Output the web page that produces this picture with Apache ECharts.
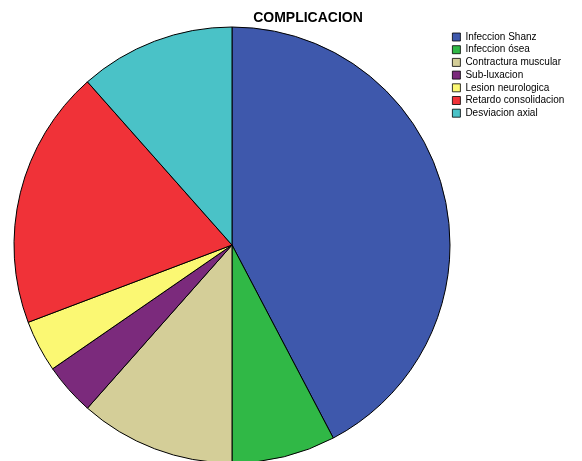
<!DOCTYPE html>
<html><head><meta charset="utf-8">
<script src="https://cdn.jsdelivr.net/npm/echarts@6/dist/echarts.min.js"></script>
<style>html,body{margin:0;padding:0;background:#fff}#c{width:582px;height:461px}</style>
</head><body><div id="c"></div>
<script>
var categories = ['Infeccion Shanz','Infeccion ósea','Contractura muscular','Sub-luxacion','Lesion neurologica','Retardo consolidacion','Desviacion axial'];
var values = [11, 2, 3, 1, 1, 5, 3];
var colors = ['#3e58ac','#30b846','#d4ce98','#7b2a7c','#fbf873','#f03238','#4ac2c7'];
var chart = echarts.init(document.getElementById('c'));
chart.setOption({
  animation: false,
  title: {text: 'COMPLICACION', left: 303, top: 6, textAlign: 'center',
    textStyle: {fontFamily: 'Liberation Sans', fontSize: 14, fontWeight: 'bold', color: '#000'}},
  legend: {orient: 'vertical', left: 452, top: 31, padding: 0, itemWidth: 8, itemHeight: 8, itemGap: 0.7,
    icon: 'rect', selectedMode: false,
    itemStyle: {borderColor: '#000', borderWidth: 0.8},
    textStyle: {fontFamily: 'Liberation Sans', fontSize: 10, lineHeight: 12, color: '#000'},
    data: categories},
  series: [{type: 'pie', center: [232, 245], radius: 218, startAngle: 90, clockwise: true,
    label: {show: false}, labelLine: {show: false}, silent: true,
    itemStyle: {borderColor: '#000', borderWidth: 1},
    data: categories.map(function(n,i){return {name:n, value: values[i], itemStyle:{color: colors[i]}};})}]
});
</script></body></html>
